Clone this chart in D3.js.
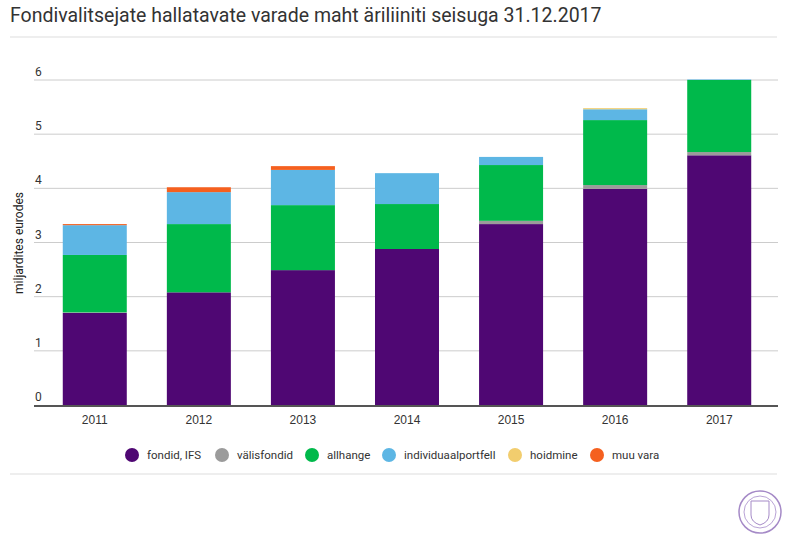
<!DOCTYPE html>
<meta charset="utf-8">
<style>
  body { margin: 0; background: #fff; font-family: Roboto, sans-serif; }
  .title { font-size: 19.5px; fill: #333; }
  .tick text { font-size: 12px; fill: #333; }
</style>
<script src="https://cdn.jsdelivr.net/npm/d3@7"></script>
<body>
<script>
  let years = ["2011", "2012", "2013", "2014", "2015", "2016", "2017"];
  let seriesNames = ["fondid, IFS", "välisfondid", "allhange", "individuaalportfell", "hoidmine", "muu vara"];
  let colors = ["#4f0773", "#9b9b9b", "#00b94b", "#5db6e4", "#f2cd6e", "#f5601f"];
  let fondid = [1.70, 2.08, 2.49, 2.88, 3.34, 3.99, 4.61];
  let valisfondid = [0.01, 0.00, 0.00, 0.00, 0.06, 0.07, 0.06];
  let allhange = [1.06, 1.26, 1.20, 0.83, 1.03, 1.20, 1.33];
  let individuaal = [0.55, 0.59, 0.65, 0.57, 0.15, 0.20, 0.01];
  let hoidmine = [0.00, 0.00, 0.00, 0.00, 0.00, 0.02, 0.00];
  let muuvara = [0.02, 0.09, 0.07, 0.00, 0.00, 0.00, 0.00];
  let yTicks = [0, 1, 2, 3, 4, 5, 6];

  let table = years.map((y, i) => ({
    year: y,
    "fondid, IFS": fondid[i], "välisfondid": valisfondid[i], "allhange": allhange[i],
    "individuaalportfell": individuaal[i], "hoidmine": hoidmine[i], "muu vara": muuvara[i]
  }));

  let svg = d3.select("body").append("svg").attr("width", 787).attr("height", 546);

  svg.append("text").attr("class", "title").attr("x", 10).attr("y", 22)
    .text("Fondivalitsejate hallatavate varade maht äriliiniti seisuga 31.12.2017");
  svg.append("line").attr("x1", 10).attr("x2", 777).attr("y1", 37).attr("y2", 37).attr("stroke", "#ddd");
  svg.append("line").attr("x1", 10).attr("x2", 777).attr("y1", 474).attr("y2", 474).attr("stroke", "#ddd");

  let x = d3.scaleBand().domain(years).range([43, 771]).paddingInner(0.385).paddingOuter(0.19);
  let y = d3.scaleLinear().domain([0, 6]).range([405, 80]);

  // grid
  svg.append("g").selectAll("line").data(yTicks.slice(1)).join("line")
    .attr("x1", 34).attr("x2", 778).attr("y1", d => y(d)).attr("y2", d => y(d))
    .attr("stroke", "#ccc").attr("stroke-width", 1);
  svg.append("g").selectAll("text").data(yTicks).join("text")
    .attr("x", 35).attr("y", d => y(d) - 4).attr("font-size", 12).attr("fill", "#333")
    .text(d => d);

  svg.append("text").attr("transform", "translate(23,243) rotate(-90)")
    .attr("text-anchor", "middle").attr("font-size", 12).attr("fill", "#222")
    .text("miljardites eurodes");

  let stack = d3.stack().keys(seriesNames)(table);
  svg.append("g").selectAll("g").data(stack).join("g")
    .attr("fill", (d, i) => colors[i])
    .selectAll("rect").data(d => d).join("rect")
    .attr("x", d => x(d.data.year)).attr("width", x.bandwidth())
    .attr("y", d => y(d[1])).attr("height", d => y(d[0]) - y(d[1]));

  svg.append("line").attr("x1", 34).attr("x2", 778).attr("y1", 406).attr("y2", 406)
    .attr("stroke", "#555").attr("stroke-width", 2);

  let xAxis = svg.append("g").attr("transform", "translate(0,407)")
    .call(d3.axisBottom(x).tickSize(0).tickPadding(8));
  xAxis.select(".domain").remove();

  let legendX = [132, 222, 312, 389, 515, 597];
  let legend = svg.append("g").selectAll("g").data(seriesNames).join("g")
    .attr("transform", (d, i) => `translate(${legendX[i]},455)`);
  legend.append("circle").attr("r", 7).attr("fill", (d, i) => colors[i]);
  legend.append("text").attr("x", 15).attr("y", 4).attr("font-size", 11.5).attr("fill", "#333").text(d => d);

  // seal
  let seal = svg.append("g").attr("transform", "translate(760,512)");
  seal.append("circle").attr("r", 21).attr("fill", "none").attr("stroke", "#a58ac7").attr("stroke-width", 1.5);
  seal.append("circle").attr("r", 16).attr("fill", "none").attr("stroke", "#b9a3d6");
  seal.append("path").attr("d", "M-9,-11H9V3Q9,10 0,13Q-9,10 -9,3Z").attr("fill", "none").attr("stroke", "#a58ac7");
</script>
</body>
